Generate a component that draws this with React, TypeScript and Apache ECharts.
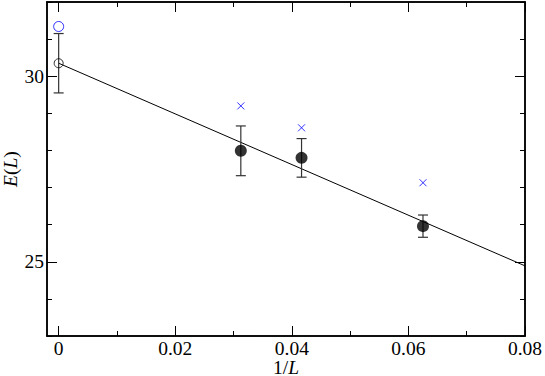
import React, { useEffect, useRef } from "react";
import * as echarts from "echarts";

const xMajorTicks = [0, 0.02, 0.04, 0.06, 0.08];
const xMinorTicks = [0.01, 0.03, 0.05, 0.07];
const yMajorTicks = [25, 30];
const yMinorTicks = [23, 24, 26, 27, 28, 29, 31, 32];

const invL = [1 / 32, 1 / 24, 1 / 16];
const energy = [27.99, 27.8, 25.96];
const energyErr = [0.67, 0.52, 0.3];
const blueCross = [29.2, 28.61, 27.13];

const extrapX = [0];
const extrapE = [30.35];
const extrapErr = [0.8];
const blueCircle = [31.34];

const fitX = [0, 0.08];
const fitE = [30.35, 24.89];

const FONT = "'Liberation Serif', 'Times New Roman', serif";
const FS = 19.5;

export default function App() {
  const ref = useRef<HTMLDivElement>(null);
  useEffect(() => {
    const chart = echarts.init(ref.current!, null, { renderer: "svg" });
    const errData = [
      ...extrapX.map((x, i) => [x, extrapE[i] - extrapErr[i], extrapE[i] + extrapErr[i]]),
      ...invL.map((x, i) => [x, energy[i] - energyErr[i], energy[i] + energyErr[i]]),
    ];
    const lineStyle = { color: "#000", width: 1.5 };
    const mkX = (pos: string, vals: number[], len: number, labels: boolean) => ({
      type: "value",
      position: pos,
      min: -0.002,
      max: 0.08,
      splitLine: { show: false },
      axisLine: { show: true, onZero: false, lineStyle },
      axisTick: { show: true, inside: true, length: len, customValues: vals, lineStyle: { color: "#000", width: 1 } },
      axisLabel: labels
        ? { show: true, customValues: vals, margin: 3, lineHeight: 18, fontFamily: FONT, fontSize: FS, color: "#000", formatter: (v: number) => String(parseFloat(v.toFixed(4))) }
        : { show: false },
    });
    const mkY = (pos: string, vals: number[], len: number, labels: boolean) => ({
      type: "value",
      position: pos,
      min: 23,
      max: 32,
      splitLine: { show: false },
      axisLine: { show: true, onZero: false, lineStyle },
      axisTick: { show: true, inside: true, length: len, customValues: vals, lineStyle: { color: "#000", width: 1 } },
      axisLabel: labels
        ? { show: true, customValues: vals, margin: 3, fontFamily: FONT, fontSize: FS, color: "#000" }
        : { show: false },
    });
    const rich = { i: { fontFamily: FONT, fontSize: FS, fontStyle: "italic", color: "#000", lineHeight: 18 } };
    const xAxes: any[] = [
      {
        ...mkX("bottom", xMajorTicks, 10, true),
        name: "1/{i|L}",
        nameLocation: "middle",
        nameGap: 22,
        nameMoveOverlap: false,
        nameTextStyle: { fontFamily: FONT, fontSize: FS, color: "#000", lineHeight: 18, rich },
      },
      mkX("bottom", xMinorTicks, 5, false),
      mkX("top", xMajorTicks, 10, false),
      mkX("top", xMinorTicks, 5, false),
    ];
    const yAxes: any[] = [
      {
        ...mkY("left", yMajorTicks, 10, true),
        name: "{i|E}({i|L})",
        nameLocation: "middle",
        nameRotate: 90,
        nameGap: 27,
        nameMoveOverlap: false,
        nameTextStyle: { fontFamily: FONT, fontSize: FS, color: "#000", lineHeight: 20, rich: { i: { ...rich.i, lineHeight: 20 } } },
      },
      mkY("left", yMinorTicks, 5, false),
      mkY("right", yMajorTicks, 10, false),
      mkY("right", yMinorTicks, 5, false),
    ];
    chart.setOption({
      animation: false,
      backgroundColor: "#fff",
      grid: { left: 47, right: 20, top: 2, bottom: 40, containLabel: false, outerBoundsMode: "none" },
      xAxis: xAxes,
      yAxis: yAxes,
      series: [
        {
          type: "line",
          data: fitX.map((x, i) => [x, fitE[i]]),
          symbol: "none",
          lineStyle: { color: "#000", width: 1 },
          z: 2,
        },
        {
          type: "custom",
          data: errData,
          z: 3,
          renderItem: (params: any, api: any) => {
            const x = api.value(0);
            const lo = api.coord([x, api.value(1)]);
            const hi = api.coord([x, api.value(2)]);
            const w = 5;
            const st = { stroke: "#333", lineWidth: 1.2 };
            return {
              type: "group",
              children: [
                { type: "line", shape: { x1: lo[0], y1: lo[1], x2: hi[0], y2: hi[1] }, style: st },
                { type: "line", shape: { x1: lo[0] - w, y1: lo[1], x2: lo[0] + w, y2: lo[1] }, style: st },
                { type: "line", shape: { x1: hi[0] - w, y1: hi[1], x2: hi[0] + w, y2: hi[1] }, style: st },
              ],
            };
          },
        },
        {
          type: "scatter",
          data: invL.map((x, i) => [x, energy[i]]),
          symbol: "circle",
          symbolSize: 12,
          itemStyle: { color: "#000" },
          z: 4,
        },
        {
          type: "scatter",
          data: extrapX.map((x, i) => [x, extrapE[i]]),
          symbol: "circle",
          symbolSize: 9,
          itemStyle: { color: "rgba(0,0,0,0)", borderColor: "#000", borderWidth: 1 },
          z: 4,
        },
        {
          type: "scatter",
          data: extrapX.map((x, i) => [x, blueCircle[i]]),
          symbol: "circle",
          symbolSize: 10,
          itemStyle: { color: "rgba(0,0,0,0)", borderColor: "#0000ff", borderWidth: 1 },
          z: 4,
        },
        {
          type: "scatter",
          data: invL.map((x, i) => [x, blueCross[i]]),
          symbol: "path://M0,0L10,10M10,0L0,10",
          symbolSize: 7,
          itemStyle: { color: "none", borderColor: "#0000ff", borderWidth: 1 },
          z: 4,
        },
      ],
    });
    return () => chart.dispose();
  }, []);
  return <div ref={ref} style={{ width: 545, height: 376, position: "absolute", left: 0, top: 0 }} />;
}
